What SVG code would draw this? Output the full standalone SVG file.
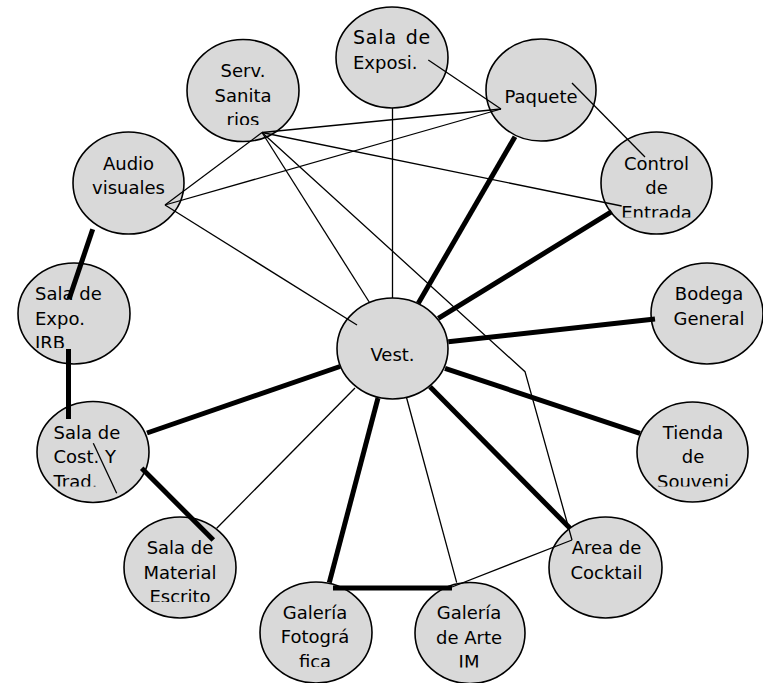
<svg xmlns="http://www.w3.org/2000/svg" width="763" height="683" viewBox="0 0 763 683">
<style>
.node ellipse{fill:#d9d9d9;stroke:#000;stroke-width:1.6}
.node text{font-family:"DejaVu Sans",Verdana,sans-serif;font-size:18px;fill:#000}
.c{text-anchor:middle}
.l{text-anchor:start}
#connectors line,#connectors polyline{stroke:#000;fill:none}
.thin{stroke-width:1.3}
.thick{stroke-width:5}
</style>
<defs>
<clipPath id="tclip"><rect x="-60" y="-60" width="120" height="94.5"/></clipPath>
</defs>
<rect width="763" height="683" fill="#fff"/>
<g id="exposi" class="node" transform="translate(392,57.5)"><ellipse rx="56" ry="50.5"/><g clip-path="url(#tclip)" class="l"><text x="-39" y="-13.5" style="font-size:19px;letter-spacing:0.8px;word-spacing:2px">Sala de</text><text x="-39" y="11">Exposi.</text></g></g>
<g id="serv" class="node" transform="translate(243,90.5)"><ellipse rx="56" ry="51"/><g clip-path="url(#tclip)" class="c"><text x="0" y="-13.5">Serv.</text><text x="0" y="11">Sanita</text><text x="0" y="35.5">rios</text></g></g>
<g id="paquete" class="node" transform="translate(541,90)"><ellipse rx="55" ry="51"/><g clip-path="url(#tclip)" class="c"><text x="0" y="12.5">Paquete</text></g></g>
<g id="control" class="node" transform="translate(656.5,183)"><ellipse rx="55.5" ry="51"/><g clip-path="url(#tclip)" class="c"><text x="0" y="-13.5">Control</text><text x="0" y="11">de</text><text x="0" y="35.5">Entrada</text></g></g>
<g id="audio" class="node" transform="translate(128.5,183)"><ellipse rx="55.5" ry="51"/><g clip-path="url(#tclip)" class="c"><text x="0" y="-13.5">Audio</text><text x="0" y="11">visuales</text></g></g>
<g id="irb" class="node" transform="translate(74,313.5)"><ellipse rx="56" ry="50.5"/><g clip-path="url(#tclip)" class="l"><text x="-39" y="-13.5">Sala de</text><text x="-39" y="11">Expo.</text><text x="-39" y="35.5">IRB</text></g></g>
<g id="vest" class="node" transform="translate(392.5,348.5)"><ellipse rx="55.5" ry="50.5"/><g clip-path="url(#tclip)" class="c"><text x="0" y="12">Vest.</text></g></g>
<g id="bodega" class="node" transform="translate(707,313.5)"><ellipse rx="56" ry="50.5"/><g clip-path="url(#tclip)" class="c"><text x="2" y="-13.5">Bodega</text><text x="2" y="11">General</text></g></g>
<g id="cost" class="node" transform="translate(93,452)"><ellipse rx="56" ry="50.5"/><g clip-path="url(#tclip)" class="l"><text x="-39.5" y="-13.5">Sala de</text><text x="-39.5" y="11">Cost. Y</text><text x="-39.5" y="35.5">Trad.</text></g></g>
<g id="tienda" class="node" transform="translate(692.5,452)"><ellipse rx="55.5" ry="50"/><g clip-path="url(#tclip)" class="c"><text x="0.5" y="-13.5">Tienda</text><text x="0.5" y="11">de</text><text x="0.5" y="35.5">Souveni</text></g></g>
<g id="material" class="node" transform="translate(180,567.5)"><ellipse rx="56" ry="50.5"/><g clip-path="url(#tclip)" class="c"><text x="0" y="-13.5">Sala de</text><text x="0" y="11">Material</text><text x="0" y="35.5">Escrito</text></g></g>
<g id="cocktail" class="node" transform="translate(605.5,567.5)"><ellipse rx="56.5" ry="50.5"/><g clip-path="url(#tclip)" class="c"><text x="1" y="-13.5">Area de</text><text x="1" y="11">Cocktail</text></g></g>
<g id="fotografica" class="node" transform="translate(316,632.5)"><ellipse rx="56" ry="50.5"/><g clip-path="url(#tclip)" class="c"><text x="-1" y="-14">Galería</text><text x="-1" y="10.5">Fotográ</text><text x="-1" y="35">fica</text></g></g>
<g id="arte" class="node" transform="translate(470,633)"><ellipse rx="55" ry="50.5"/><g clip-path="url(#tclip)" class="c"><text x="-1" y="-14">Galería</text><text x="-1" y="10.5">de Arte</text><text x="-1" y="35">IM</text></g></g>
<g id="connectors">
<line class="thick" x1="92.7" y1="229.3" x2="69" y2="299.3"/>
<line class="thick" x1="68.5" y1="349" x2="68.5" y2="419"/>
<line class="thick" x1="147" y1="433" x2="340" y2="366.5"/>
<line class="thick" x1="141.7" y1="468.3" x2="213.3" y2="540"/>
<line class="thick" x1="378" y1="398" x2="329.3" y2="582.7"/>
<line class="thick" x1="333" y1="588" x2="452" y2="588"/>
<line class="thick" x1="430" y1="386.7" x2="570" y2="528.3"/>
<line class="thick" x1="445" y1="368.3" x2="640" y2="433.3"/>
<line class="thick" x1="448.3" y1="341.7" x2="655" y2="319"/>
<line class="thick" x1="438.3" y1="318.3" x2="611.7" y2="211.7"/>
<line class="thick" x1="418.3" y1="303.3" x2="515" y2="136.7"/>
<line class="thin" x1="392.5" y1="108" x2="392.5" y2="298"/>
<line class="thin" x1="428.3" y1="60" x2="501" y2="109"/>
<line class="thin" x1="262" y1="132.5" x2="501" y2="109"/>
<line class="thin" x1="165" y1="205" x2="501" y2="109"/>
<line class="thin" x1="165" y1="205" x2="262" y2="132.5"/>
<line class="thin" x1="165" y1="205" x2="357" y2="325"/>
<line class="thin" x1="262" y1="132.5" x2="621.7" y2="206"/>
<line class="thin" x1="262" y1="132.5" x2="369.5" y2="302.5"/>
<polyline class="thin" points="262,132.5 525,371.7 572,540"/>
<line class="thin" x1="572" y1="540" x2="452" y2="587"/>
<line class="thin" x1="406.5" y1="397.5" x2="456.7" y2="582.7"/>
<line class="thin" x1="355" y1="388" x2="216.7" y2="528.3"/>
<line class="thin" x1="572" y1="83" x2="645" y2="157"/>
<line class="thin" x1="93.3" y1="443.3" x2="116.7" y2="493.3"/>
</g>
</svg>
